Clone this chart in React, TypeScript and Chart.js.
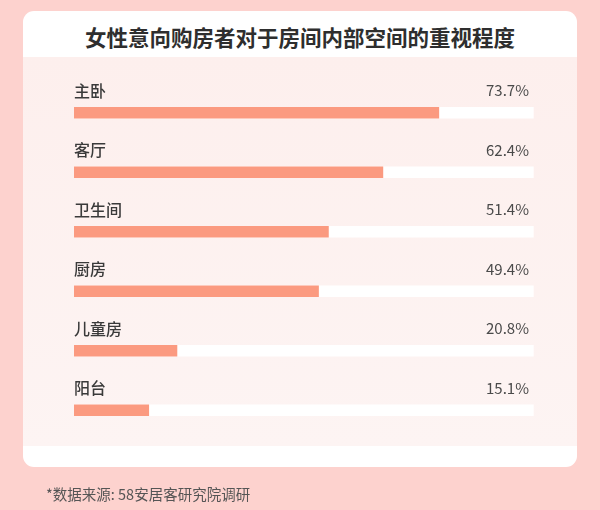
import React, { useEffect, useRef } from "react";
import { Chart, registerables } from "chart.js";

Chart.register(...registerables);

const TITLE = "女性意向购房者对于房间内部空间的重视程度";
const FOOTNOTE = "*数据来源: 58安居客研究院调研";
const categories = ["主卧", "客厅", "卫生间", "厨房", "儿童房", "阳台"];
const values = [73.7, 62.4, 51.4, 49.4, 20.8, 15.1];
const trackValues = [92.8, 92.8, 92.8, 92.8, 92.8, 92.8];
const valueLabels = ["73.7%", "62.4%", "51.4%", "49.4%", "20.8%", "15.1%"];

const FONT = '"Noto Sans CJK SC", "Noto Sans", sans-serif';

const labelPlugin = {
  id: "rowLabels",
  afterDatasetsDraw(chart: any) {
    const { ctx, chartArea } = chart;
    const meta = chart.getDatasetMeta(1);
    ctx.save();
    meta.data.forEach((bar: any, i: number) => {
      const y = bar.y - 22;
      ctx.font = `500 16px ${FONT}`;
      ctx.fillStyle = "#3a3a3a";
      ctx.textAlign = "left";
      ctx.textBaseline = "middle";
      ctx.fillText(categories[i], chartArea.left, y);
      ctx.font = `400 15px ${FONT}`;
      ctx.fillStyle = "#4a4a4a";
      ctx.textAlign = "right";
      ctx.fillText(valueLabels[i], 529, y);
    });
    ctx.restore();
  },
};

export default function App() {
  const ref = useRef<HTMLCanvasElement>(null);
  useEffect(() => {
    if (!ref.current) return;
    const chart = new Chart(ref.current, {
      type: "bar",
      data: {
        labels: categories,
        datasets: [
          {
            data: trackValues,
            backgroundColor: "#ffffff",
            barThickness: 11,
            grouped: false,
            order: 2,
          } as any,
          {
            data: values,
            backgroundColor: "#fb9a80",
            barThickness: 11,
            grouped: false,
            order: 1,
          } as any,
        ],
      },
      options: {
        indexAxis: "y",
        responsive: false,
        animation: false,
        devicePixelRatio: 1,
        layout: { padding: { left: 74, right: 31, top: 83, bottom: 70 } },
        scales: {
          x: { display: false, min: 0, max: 100 },
          y: { display: false },
        },
        plugins: {
          legend: { display: false },
          tooltip: { enabled: false },
        },
      },
      plugins: [labelPlugin],
    });
    return () => chart.destroy();
  }, []);

  return (
    <div
      style={{
        position: "fixed",
        left: 0,
        top: 0,
        width: 600,
        height: 510,
        background: "#fdd2ce",
        overflow: "hidden",
        fontFamily: FONT,
      }}
    >
      <div
        style={{
          position: "absolute",
          left: 23,
          top: 11,
          width: 554,
          height: 456,
          background: "#ffffff",
          borderRadius: 11,
          overflow: "hidden",
        }}
      >
        <div
          style={{
            position: "absolute",
            left: 0,
            top: 46,
            width: 554,
            height: 389,
            background: "linear-gradient(#fdefed, #fdf4f3)",
          }}
        />
      </div>
      <div
        style={{
          position: "absolute",
          left: 0,
          top: 22,
          width: 600,
          textAlign: "center",
          fontSize: 21.5,
          fontWeight: 700,
          color: "#2e2e2e",
          lineHeight: "30px",
        }}
      >
        {TITLE}
      </div>
      <canvas
        ref={ref}
        width={600}
        height={510}
        style={{ position: "absolute", left: 0, top: 0, width: 600, height: 510 }}
      />
      <div
        style={{
          position: "absolute",
          left: 46,
          top: 484,
          fontSize: 14.5,
          color: "#555",
          lineHeight: "20px",
          whiteSpace: "nowrap",
        }}
      >
        {FOOTNOTE}
      </div>
    </div>
  );
}
